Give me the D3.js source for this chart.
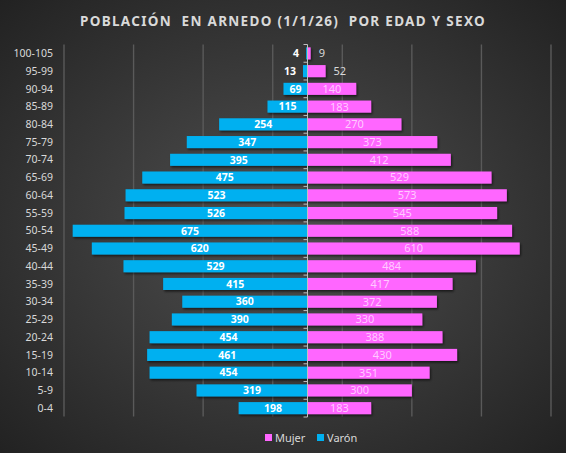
<!DOCTYPE html>
<html><head><meta charset="utf-8">
<script src="https://cdn.jsdelivr.net/npm/d3@7"></script>
<style>
html,body{margin:0;padding:0;background:#2a2a2a;}
svg{display:block;}
</style></head>
<body>
<svg id="chart" width="566" height="453"></svg>
<script>
const categories = ["100-105","95-99","90-94","85-89","80-84","75-79","70-74","65-69","60-64","55-59","50-54","45-49","40-44","35-39","30-34","25-29","20-24","15-19","10-14","5-9","0-4"];
const varon = [4,13,69,115,254,347,395,475,523,526,675,620,529,415,360,390,454,461,454,319,198];
const mujer = [9,52,140,183,270,373,412,529,573,545,588,610,484,417,372,330,388,430,351,300,183];
const gridTicks = [-700,-500,-300,-100,100,300,500,700];
const title = "POBLACIÓN  EN ARNEDO (1/1/26)  POR EDAD Y SEXO";
const legendItems = [{name:"Mujer", color:"#ff66ff"},{name:"Varón", color:"#00b0f0"}];

const W = 566, H = 453;
const svg = d3.select("#chart");
const defs = svg.append("defs");
const rg = defs.append("radialGradient").attr("id","bg").attr("cx","50%").attr("cy","50%").attr("r","75%");
rg.append("stop").attr("offset","0%").attr("stop-color","#505050");
rg.append("stop").attr("offset","100%").attr("stop-color","#1f1f1f");
const f = defs.append("filter").attr("id","sh").attr("x","-10%").attr("y","-30%").attr("width","130%").attr("height","180%");
f.append("feDropShadow").attr("dx",1.2).attr("dy",1.6).attr("stdDeviation",0.9).attr("flood-color","#000").attr("flood-opacity",0.6);

svg.append("rect").attr("width",W).attr("height",H).attr("fill","url(#bg)");

const font = "'Noto Sans', 'Open Sans', sans-serif";
const x = d3.scaleLinear().domain([-700,700]).range([64,551]);
const y = d3.scaleBand().domain(categories).range([44.5,417]).paddingInner(0.32).paddingOuter(0.16);

// title
svg.append("text").attr("x",283).attr("y",26).attr("text-anchor","middle")
  .attr("font-family",font).attr("font-weight","bold").attr("font-size",13.5)
  .attr("letter-spacing",1.3).attr("fill","#d9d9d9").style("white-space","pre").text(title);

// gridlines
svg.append("g").selectAll("line").data(gridTicks).join("line")
  .attr("x1",d=>x(d)).attr("x2",d=>x(d)).attr("y1",44.5).attr("y2",416.5)
  .attr("stroke","#5a5a5a").attr("stroke-width",1.4);

// bars
const rows = categories.map((c,i)=>({c, v:varon[i], m:mujer[i]}));
const bh = y.bandwidth();
const gB = svg.append("g").attr("filter","url(#sh)");
gB.selectAll("rect.v").data(rows).join("rect").attr("class","v")
  .attr("x",d=>x(-d.v)).attr("width",d=>x(0)-x(-d.v)).attr("y",d=>y(d.c)).attr("height",bh).attr("fill","#00b0f0");
gB.selectAll("rect.m").data(rows).join("rect").attr("class","m")
  .attr("x",x(0)).attr("width",d=>x(d.m)-x(0)).attr("y",d=>y(d.c)).attr("height",bh).attr("fill","#ff66ff");

// axis with ticks
const ax = svg.append("g");
ax.append("line").attr("x1",x(0)).attr("x2",x(0)).attr("y1",44.5).attr("y2",417).attr("stroke","#bfbfbf").attr("stroke-width",1);
const bounds = d3.range(categories.length+1).map(i=>44.5 + i*(417-44.5)/categories.length);
ax.selectAll("line.t").data(bounds).join("line").attr("class","t")
  .attr("x1",x(0)-4).attr("x2",x(0)).attr("y1",d=>d).attr("y2",d=>d).attr("stroke","#bfbfbf").attr("stroke-width",1);

// category labels
svg.append("g").selectAll("text").data(categories).join("text")
  .attr("x",53).attr("y",d=>y(d)+bh/2).attr("dy","0.35em").attr("text-anchor","end")
  .attr("font-family",font).attr("font-size",10.5).attr("fill","#d9d9d9").text(d=>d);

// value labels
const lblV = svg.append("g").attr("font-family",font).attr("font-size",10.5).attr("font-weight","bold");
lblV.selectAll("text").data(rows).join("text")
  .attr("x",d=>{const w=x(0)-x(-d.v); return w<22 ? x(-d.v)-7 : (x(-d.v)+x(0))/2;})
  .attr("text-anchor",d=>(x(0)-x(-d.v))<22?"end":"middle")
  .attr("y",d=>y(d.c)+bh/2).attr("dy","0.36em").attr("fill","#ffffff").text(d=>d.v);
const lblM = svg.append("g").attr("font-family",font).attr("font-size",11);
lblM.selectAll("text").data(rows).join("text")
  .attr("x",d=>{const w=x(d.m)-x(0); return w<22 ? x(d.m)+8 : (x(d.m)+x(0))/2;})
  .attr("text-anchor",d=>(x(d.m)-x(0))<22?"start":"middle")
  .attr("y",d=>y(d.c)+bh/2).attr("dy","0.36em")
  .attr("fill",d=>(x(d.m)-x(0))<22?"#d9d9d9":"#ffcaff").text(d=>d.m);

// legend
const lg = svg.append("g").attr("font-family",font).attr("font-size",11);
const lx = [265, 317];
legendItems.forEach((it,i)=>{
  lg.append("rect").attr("x",lx[i]).attr("y",434).attr("width",7).attr("height",7).attr("fill",it.color);
  lg.append("text").attr("x",lx[i]+10).attr("y",437.7).attr("dy","0.35em").attr("fill","#d9d9d9").text(it.name);
});
</script>
</body></html>
